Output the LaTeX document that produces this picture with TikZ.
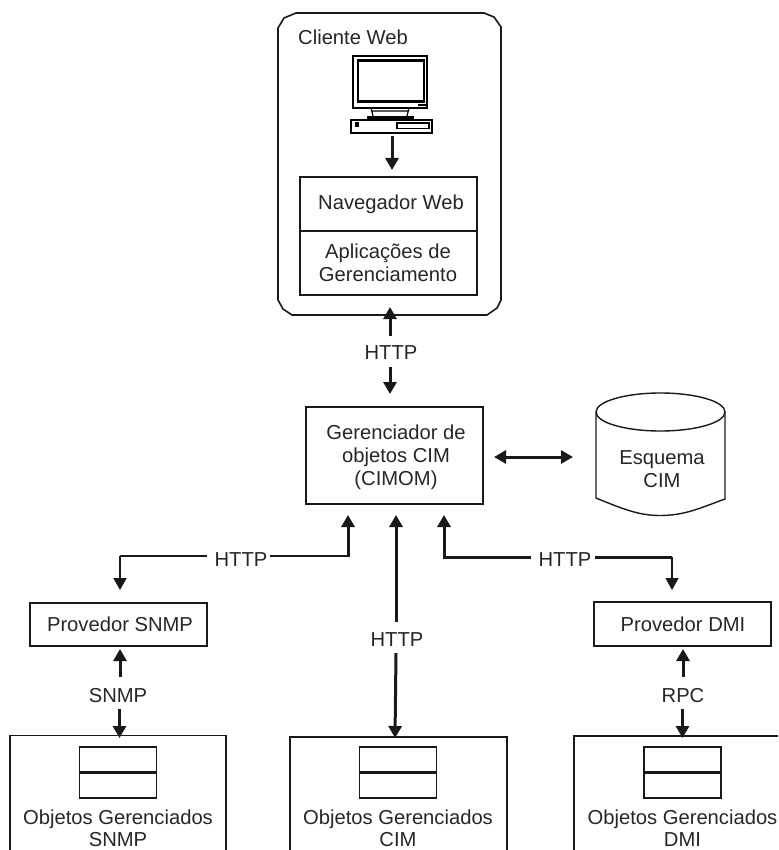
\documentclass[tikz,border=0pt]{standalone}
\usepackage{fontspec}
\setmainfont{Liberation Sans}
\usetikzlibrary{arrows.meta,shapes.geometric}
\tikzset{
 x=1pt,y=-1pt,
 box/.style={draw=black!90,line width=1.3pt},
 lab/.style={inner sep=0pt,align=center,font=\fontsize{20.2}{23}\selectfont,text=black!85},
 labb/.style={inner sep=0pt,align=center,font=\fontsize{20.2}{22}\selectfont,text=black!85},
 bar/.style={line width=2.4pt,draw=black!90},
 conn/.style={line width=3pt,draw=black!90,-{Triangle[width=13pt,length=12pt]}},
 connb/.style={line width=3pt,draw=black!90,{Triangle[width=13pt,length=12pt]}-{Triangle[width=13pt,length=12pt]}},
}
\begin{document}
\begin{tikzpicture}
\useasboundingbox (0,0) rectangle (778,850);
% Cliente Web
\draw[line width=1.6pt,draw=black!90] (296,13) -- (484,13) -- (494,17) -- (501,27) -- (501,300) -- (497,308) -- (487,315) -- (292,315) -- (283,309) -- (278,300) -- (278,28) -- (284,18) -- cycle;
\node[lab,anchor=west] (cw) at (298,37) {Cliente Web};
% computer
\draw[line width=1.2pt] (353,56) rectangle (427,108);
\draw[line width=2.6pt,fill=white] (358,60.5) rectangle (424,101.5);
\fill (418,104) rectangle (426,106.5);
\draw[line width=1.2pt] (371,108) -- (373,116) (409,108) -- (407,116) (371,111) -- (409,111);
\fill (367,116) rectangle (414,119.5);
\draw[line width=1.2pt] (351,120) rectangle (432,133);
\fill (355,122.5) rectangle (359,127);
\draw[line width=1.2pt] (397,123) rectangle (429,128.5);
\coordinate (pc) at (392,136);
\coordinate (navtop) at (392,170);
\node[box,minimum width=177pt,minimum height=118pt,inner sep=0pt] (nav) at (388.5,236) {};
\draw[conn] (pc) -- (navtop);
\draw[bar] (nav.west |- 0,231) -- (nav.east |- 0,231);
\node[lab] (nv) at (391,204) {Navegador Web};
\node[lab] (ap) at (388,263) {Aplicações de\\Gerenciamento};
% HTTP top
\node[lab] (h1) at (391,353) {HTTP};
\coordinate (cw1) at (390,307);
\coordinate (cw1b) at (390,336);
\draw[conn] (cw1b) -- (cw1);
\node[box,minimum width=177pt,minimum height=97pt,inner sep=0pt] (cimom) at (394.5,455.5) {};
\node[lab] (cimt) at (396,457.5) {Gerenciador de\\objetos CIM\\(CIMOM)};
\coordinate (h1b) at (390,367);
\coordinate (h1c) at (390,394);
\draw[conn] (h1b) -- (h1c);
% cylinder
\draw[line width=1.4pt,draw=black!90] (596,412) -- (596,498) .. controls (625,510) and (640,515.5) .. (660,515.5) .. controls (685,515.5) and (700,508) .. (725,499) -- (725,412);
\draw[line width=1.4pt,draw=black!90] (660.5,412) ellipse [x radius=64.5pt,y radius=19pt];
\node[lab] (es) at (662,469) {Esquema\\CIM};
\coordinate (d1) at (494,457);
\coordinate (d2) at (573,457);
\draw[connb] (d1) -- (d2);
% left
\node[box,minimum width=177pt,minimum height=43pt,inner sep=0pt] (ps) at (118.5,624.5) {};
\node[lab] (pst) at (120,624) {Provedor SNMP};
\node[lab] (hl) at (241,560) {HTTP};
\coordinate (l0) at (348,556);
\coordinate (l1) at (348,515);
\coordinate (l3) at (120,556);
\coordinate (l2) at (120,590);
\draw[line width=1.4pt,draw=black!90] (207,556) -- (l3);
\draw[conn,line width=2.2pt] (l3) -- (l2);
\draw[line width=1.4pt,draw=black!90] (270,556) -- (l0);
\draw[conn] ([yshift=-.7pt]l0) -- (l1);
% center
\node[lab] (hc) at (397,640) {HTTP};
\coordinate (c1) at (396,622);
\coordinate (c2) at (396,515);
\coordinate (c3) at (396,653);
\draw[conn] (c1) -- (c2);
% right
\node[lab] (hr) at (565,560) {HTTP};
\draw[conn] (531,557) -- (444,557) -- (444,515);
\draw[line width=3pt,draw=black!90] (595,557) -- (672,557);
\coordinate (r1) at (672,557);
\coordinate (r2) at (672,590);
\draw[conn,line width=1.6pt] (r1) -- (r2);
\node[box,minimum width=177pt,minimum height=44pt,inner sep=0pt] (pd) at (682.5,624) {};
\node[lab] (pdt) at (683,624) {Provedor DMI};
% bottom boxes
\draw[box] (10,850) -- (10,735.5) -- (226,735.5) -- (226,850);
\draw[box] (290,850) -- (290,737) -- (507,737) -- (507,850);
\draw[box] (574,850) -- (574,736) -- (778,736);
\coordinate (bl) at (119.5,738);
\coordinate (bc) at (395,738);
\coordinate (br) at (682.5,738);
\foreach \c/\t/\n in {118/SNMP/a,398/CIM/b,682.5/DMI/c}{
 \node[box,minimum width=77pt,minimum height=51pt,inner sep=0pt] (in\n) at (\c,772.5) {};
 \draw[bar] (in\n.west) -- (in\n.east);
 \node[labb] (ob\n) at (\c,828.5) {Objetos Gerenciados\\\t};
}
\node[lab] (sn) at (118,696) {SNMP};
\node[lab] (rp) at (683,696) {RPC};
\draw[conn] (120,677) -- (120,649);
\draw[conn] (bl |- 0,709) -- (bl);
\draw[conn] (683,677) -- (683,649);
\draw[conn] (br |- 0,709) -- (br);
\draw[conn] (c3) -- (bc);
\end{tikzpicture}
\end{document}
